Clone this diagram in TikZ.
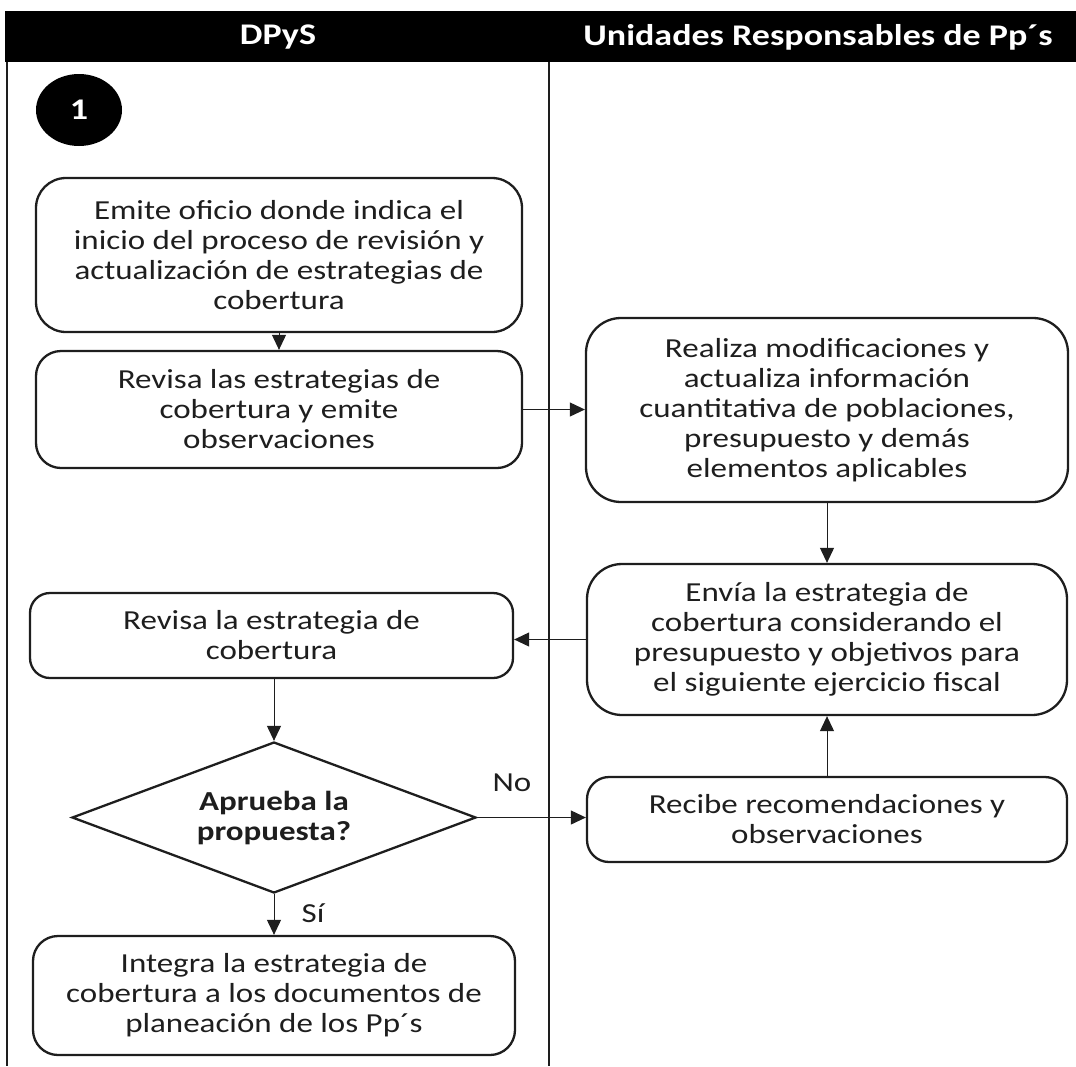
\documentclass[tikz,border=0pt]{standalone}
\usepackage{fontspec}
\setmainfont{Carlito}[FakeStretch=1.2]
\usetikzlibrary{shapes.geometric,arrows.meta}
\definecolor{ink}{HTML}{1E1E1E}
\tikzset{
  stepbox/.style={draw=ink, line width=2.3pt, rounded corners=25pt, align=center, inner sep=0pt,
    font=\fontsize{27.5}{30}\selectfont, text=ink},
  decbox/.style={draw=ink, line width=2.3pt, diamond, aspect=2.7, align=center, inner sep=0pt,
    font=\bfseries\fontsize{27.5}{30}\selectfont, text=ink},
  flow/.style={draw=ink, line width=1pt, -{Triangle[length=15pt,width=14pt]}},
  lanetitle/.style={text=white, font=\bfseries\fontsize{30}{32}\selectfont},
  lane/.style={draw=ink, line width=2.5pt},
  lbl/.style={text=ink, font=\fontsize{27.5}{30}\selectfont}
}
\begin{document}
\begin{tikzpicture}[x=1pt,y=-1pt]
\useasboundingbox (0,0) rectangle (1076,1066);
% header
\fill[black] (5,11) rectangle (1076,62);
\node[lanetitle] (h1) at (278,37) {DPyS};
\node[lanetitle] (h2) at (818,37) {Unidades Responsables de Pp´s};
% lanes
\draw[lane] (7,62) -- (7,1066);
\draw[lane] (549,62) -- (549,1066);
% start marker
\node[ellipse, fill=black, minimum width=86pt, minimum height=72pt, inner sep=0pt,
  text=white, font=\bfseries\fontsize{30}{32}\selectfont] (start) at (79,110) {1};
% boxes
\node[stepbox, minimum width=486pt, minimum height=154pt, rounded corners=30pt] (A) at (279,255)
  {Emite oficio donde indica el\\inicio del proceso de revisión y\\actualización de estrategias de\\cobertura};
\node[stepbox, minimum width=486pt, minimum height=117pt] (B) at (279,409.5)
  {Revisa las estrategias de\\cobertura y emite\\observaciones};
\node[stepbox, minimum width=482pt, minimum height=184pt, rounded corners=35pt] (C) at (827,410)
  {Realiza modificaciones y\\actualiza información\\cuantitativa de poblaciones,\\presupuesto y demás\\elementos aplicables};
\node[stepbox, minimum width=480pt, minimum height=151pt, rounded corners=35pt] (D) at (827,639.5)
  {Envía la estrategia de\\cobertura considerando el\\presupuesto y objetivos para\\el siguiente ejercicio fiscal};
\node[stepbox, minimum width=483pt, minimum height=85pt, rounded corners=20pt] (E) at (271.5,635.5)
  {Revisa la estrategia de\\cobertura};
\node[decbox, minimum width=404pt, minimum height=151pt] (F) at (274,817.5)
  {Aprueba la\\propuesta?};
\node[stepbox, minimum width=480pt, minimum height=85pt, rounded corners=22pt] (G) at (827,819.5)
  {Recibe recomendaciones y\\observaciones};
\node[stepbox, minimum width=482pt, minimum height=119pt] (H) at (274,995.5)
  {Integra la estrategia de\\cobertura a los documentos de\\planeación de los Pp´s};
% labels
\node[lbl] (no) at (512,783) {No};
\node[lbl] (si) at (313,913) {Sí};
% connectors
\draw[flow] (A.south) -- (B.north);
\draw[flow] (B.east) -- (B.east -| C.west);
\draw[flow] (C.south) -- (D.north);
\draw[flow] (D.west) -- (D.west -| E.east);
\draw[flow] (F.north |- E.south) -- (F.north);
\draw[flow] (F.east) -- (F.east -| G.west);
\draw[flow] (G.north) -- (D.south);
\draw[flow] (F.south) -- (H.north);
\end{tikzpicture}
\end{document}
